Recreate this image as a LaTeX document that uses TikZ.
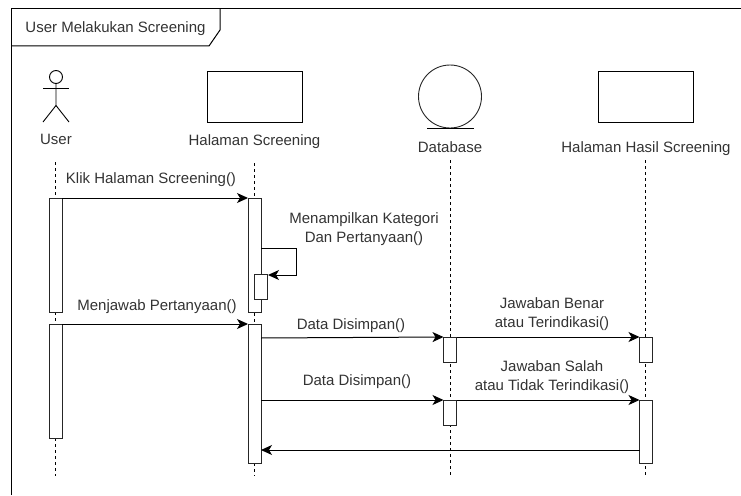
\documentclass[tikz,border=0pt]{standalone}
\usepackage{fontspec}
\setmainfont{Liberation Sans}
\usetikzlibrary{arrows.meta}
\begin{document}
\begin{tikzpicture}[
  x=1pt, y=-1pt,
  every node/.style={font=\fontsize{15}{19}\selectfont, text=black!80},
  msg/.style={draw=black,line width=1pt,-{Stealth[length=11pt,width=10pt,inset=3pt]}},
  life/.style={draw=black,line width=0.8pt,dashed,dash pattern=on 3pt off 3pt},
  page/.style={draw=black,fill=white,line width=1pt,minimum width=95pt,minimum height=51pt,inner sep=0pt,outer sep=0pt},
  bar/.style={draw=black!85,fill=white,line width=1pt,minimum width=13pt,inner sep=0pt,outer sep=0pt}
]
  \useasboundingbox (0,0) rectangle (741,495);

  % frame
  \coordinate (f0) at (11.5,495);
  \coordinate (f1) at (11.5,8.5);
  \coordinate (f2) at (741,8.5);
  \coordinate (t0) at (11.5,46);
  \coordinate (t1) at (209,46);
  \coordinate (t2) at (220,30);
  \coordinate (t3) at (220,8.5);
  \draw[line width=1pt] (f0) -- (f1) -- (f2);
  \draw[line width=1pt] (t0) -- (t1) -- (t2) -- (t3);
  \node (title) at (115.5,29) {User Melakukan Screening};

  % user
  \node[draw=black,circle,line width=0.9pt,minimum size=13pt,inner sep=0pt] (head) at (56,77) {};
  \coordinate (arml) at (43,88.5);
  \coordinate (armr) at (69,88.5);
  \coordinate (hip) at (56,105.5);
  \coordinate (legl) at (43,122);
  \coordinate (legr) at (69,122);
  \draw[line width=0.9pt] (head.south) -- (hip) -- (legl);
  \draw[line width=0.9pt] (hip) -- (legr);
  \draw[line width=0.9pt] (arml) -- (armr);
  \node (user) at (56,139) {User};

  % screen
  \node[page] (screen) at (254.5,96.5) {};
  \node (screenl) at (254.5,142) {Halaman Screening};

  % database
  \node[draw=black!85,circle,line width=0.9pt,minimum size=63pt,inner sep=0pt,outer sep=0pt] (db) at (450,96.5) {};
  \coordinate (dbl) at (427,128);
  \coordinate (dbr) at (474,128);
  \draw[line width=0.9pt] (dbl) -- (dbr);
  \node (dbt) at (450,147) {Database};

  % result
  \node[page] (result) at (646,96.5) {};
  \node (resultl) at (646,149) {Halaman Hasil Screening};

  % lifelines
  \coordinate (u0) at (55,162);
  \coordinate (u1) at (55,476);
  \coordinate (s0) at (254,163);
  \coordinate (s1) at (254,476);
  \coordinate (d0) at (450,160);
  \coordinate (d1) at (450,476);
  \coordinate (r0) at (645.5,160);
  \coordinate (r1) at (645.5,476);
  \draw[life] (u0) -- (u1);
  \draw[life] (s0) -- (s1);
  \draw[life] (d0) -- (d1);
  \draw[life] (r0) -- (r1);

  % activations
  \node[bar,minimum height=114pt] (u2) at (55.5,255) {};
  \node[bar,minimum height=114pt] (u3) at (55.5,381) {};
  \node[bar,minimum height=114pt] (s2) at (254.5,255) {};
  \node[bar,minimum height=25pt] (s3) at (261,286.5) {};
  \node[bar,minimum height=139pt] (s4) at (254.5,393.5) {};
  \node[bar,minimum height=25pt] (d2) at (450,349.5) {};
  \node[bar,minimum height=25pt] (d3) at (450,412.5) {};
  \node[bar,minimum height=25pt] (r2) at (646,349.5) {};
  \node[bar,minimum height=63pt] (r3) at (646,431.5) {};

  % messages
  \coordinate (m0) at (261,248);
  \coordinate (m1) at (296,248);
  \coordinate (m2) at (296,275);
  \coordinate (m3) at (268,275);
  \coordinate (m4) at (261,338);
  \coordinate (m5) at (261,400);
  \coordinate (m6) at (639.5,450);
  \coordinate (m7) at (261,450);
  \draw[msg] (u2.north east) -- (s2.north west);
  \draw[msg] (m0) -- (m1) -- (m2) -- (m3);
  \draw[msg] (u3.north east) -- (s4.north west);
  \draw[msg] (m4) -- (d2.north west);
  \draw[msg] (d2.north east) -- (r2.north west);
  \draw[msg] (m5) -- (d3.north west);
  \draw[msg] (d3.north east) -- (r3.north west);
  \draw[msg] (m6) -- (m7);

  % labels
  \node (klik) at (151,180) {Klik Halaman Screening()};
  \node[align=center] (tampil) at (364,229) {Menampilkan Kategori\\Dan Pertanyaan()};
  \node (jawab) at (157,306.5) {Menjawab Pertanyaan()};
  \node (simpan1) at (351,326) {Data Disimpan()};
  \node (simpan2) at (357,382) {Data Disimpan()};
  \node[align=center] (benar) at (552,314.5) {Jawaban Benar\\atau Terindikasi()};
  \node[align=center] (salah) at (552,377.5) {Jawaban Salah\\atau Tidak Terindikasi()};
\end{tikzpicture}
\end{document}
